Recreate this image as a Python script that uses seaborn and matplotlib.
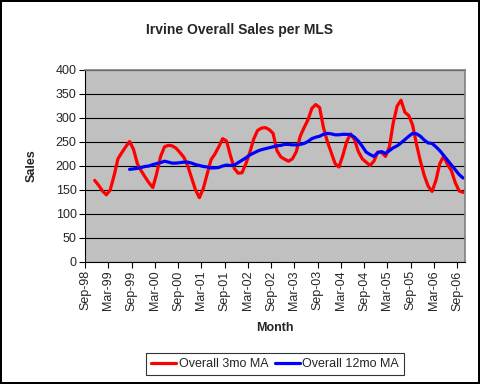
import matplotlib
matplotlib.use("Agg")
import matplotlib.pyplot as plt
import numpy as np
import pandas as pd
import seaborn as sns

# month labels for the x axis, every 6 months from Sep-98
tick_labels = ["Sep-98", "Mar-99", "Sep-99", "Mar-00", "Sep-00", "Mar-01", "Sep-01",
               "Mar-02", "Sep-02", "Mar-03", "Sep-03", "Mar-04", "Sep-04", "Mar-05",
               "Sep-05", "Mar-06", "Sep-06"]

# 3 month moving average, Nov-98 .. Oct-06 (month index 2..97 from Sep-98)
ma3_start = 2
ma3 = [170, 160, 148, 140, 150, 180, 215, 228, 240, 251,
       235, 205, 190, 177, 165, 155, 185, 220, 240, 243, 242, 237,
       228, 218, 200, 175, 150, 134, 153, 183, 213, 225, 240, 257,
       252, 222, 195, 185, 186, 205, 228, 256, 274, 279, 280, 276,
       268, 232, 219, 214, 210, 215, 230, 262, 280, 296, 320, 328,
       322, 280, 251, 228, 205, 198, 222, 251, 267, 255, 230, 215,
       208, 201, 210, 229, 228, 220, 240, 290, 325, 337, 312, 305,
       285, 245, 210, 180, 158, 147, 170, 205, 220, 203, 190, 165, 148, 145]

# 12 month moving average, Aug-99 .. Oct-06 (month index 11..97)
ma12_start = 11
ma12 = [193, 194, 195, 197, 199, 200, 203, 205, 207, 210, 208, 206, 206,
        207, 208, 208, 206, 203, 201, 199, 198, 196, 196, 197, 200,
        202, 201, 202, 207, 212, 217, 223, 227, 231, 234, 236, 238,
        240, 242, 243, 245, 245, 244, 244, 245, 247, 251, 257, 260,
        262, 266, 268, 267, 265, 265, 266, 266, 265, 260, 252, 241,
        229, 224, 220, 228, 230, 226, 232, 238, 242, 248, 255, 262,
        268, 267, 262, 254, 248, 247, 240, 232, 222, 212, 202, 192, 182, 175]

n_months = 98

df3 = pd.DataFrame({"month": np.arange(len(ma3)) + ma3_start + 0.5, "sales": ma3,
                    "series": "Overall 3mo MA"})
df12 = pd.DataFrame({"month": np.arange(len(ma12)) + ma12_start + 0.5, "sales": ma12,
                     "series": "Overall 12mo MA"})
df = pd.concat([df3, df12], ignore_index=True)

sns.set_style("white")
plt.rcParams["font.family"] = ["Liberation Sans", "DejaVu Sans"]

fig = plt.figure(figsize=(4.8, 3.84), dpi=100)
ax = fig.add_axes([85 / 480, 1 - 262 / 384, 380 / 480, 192 / 384])
ax.set_facecolor("#C0C0C0")

sns.lineplot(data=df, x="month", y="sales", hue="series",
             palette={"Overall 3mo MA": "#FF0000", "Overall 12mo MA": "#0000FF"},
             linewidth=2.3, ax=ax, legend=False)

ax.set_xlim(0, n_months)
ax.set_ylim(0, 400)
ax.set_yticks(np.arange(0, 401, 50))
ax.set_xticks(np.arange(0, 6 * len(tick_labels), 6))
ax.set_xticklabels(tick_labels, rotation=90, fontsize=9)
ax.tick_params(axis="y", labelsize=9)
ax.tick_params(axis="both", direction="out", length=4, width=0.8, color="black",
               bottom=True, left=True, pad=2)
ax.yaxis.grid(True, color="black", linewidth=0.8)
ax.set_axisbelow(True)

for side in ["left", "bottom"]:
    ax.spines[side].set_color("black")
    ax.spines[side].set_linewidth(0.8)
for side in ["top", "right"]:
    ax.spines[side].set_color("#808080")
    ax.spines[side].set_linewidth(1.2)

ax.set_xlabel("Month", fontsize=9, fontweight="bold")
ax.set_ylabel("Sales", fontsize=9, fontweight="bold")
ax.xaxis.set_label_coords(0.5, -0.31)
ax.yaxis.set_label_coords(-0.125, 0.5)

fig.text(0.5, 1 - 30 / 384, "Irvine Overall Sales per MLS", ha="center", va="center",
         fontsize=10, fontweight="bold")

handles = [plt.Line2D([], [], color="#FF0000", linewidth=2.3),
           plt.Line2D([], [], color="#0000FF", linewidth=2.3)]
leg = fig.legend(handles, ["Overall 3mo MA", "Overall 12mo MA"], loc="center",
                 bbox_to_anchor=(275 / 480, 1 - 364 / 384), ncol=2, fontsize=9,
                 frameon=True, fancybox=False, handlelength=2.0, handletextpad=0.2,
                 columnspacing=0.5, borderpad=0.4)
leg.get_frame().set_edgecolor("black")
leg.get_frame().set_linewidth(0.8)

fig.patch.set_edgecolor("black")
fig.patch.set_linewidth(1.5)

fig.savefig("out.png", dpi=100, edgecolor=fig.get_edgecolor(), facecolor="white")
